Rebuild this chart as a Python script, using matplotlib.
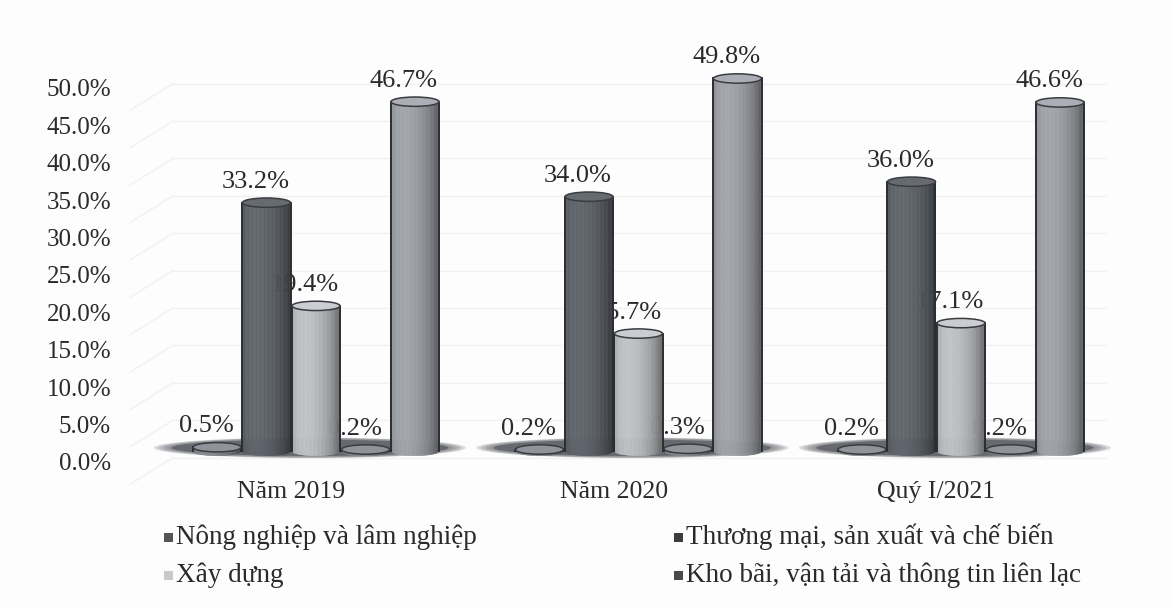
import numpy as np
import matplotlib
matplotlib.use("Agg")
import matplotlib.pyplot as plt
from matplotlib.patches import Ellipse, Rectangle
from matplotlib.collections import PolyCollection
from matplotlib.transforms import offset_copy
from matplotlib.colors import to_rgb

plt.rcParams['font.family'] = ['Liberation Serif', 'DejaVu Serif']

# ---- data ----
categories = ["Năm 2019", "Năm 2020", "Quý I/2021"]
legend_labels = ["Nông nghiệp và lâm nghiệp",
                 "Thương mại, sản xuất và chế biến",
                 "Xây dựng",
                 "Kho bãi, vận tải và thông tin liên lạc"]
nong_nghiep = [0.5, 0.2, 0.2]
thuong_mai = [33.2, 34.0, 36.0]
xay_dung = [19.4, 15.7, 17.1]
linh_vuc_khac = [0.2, 0.3, 0.2]
kho_bai = [46.7, 49.8, 46.6]
yticks = [0, 5, 10, 15, 20, 25, 30, 35, 40, 45, 50]

series = [nong_nghiep, thuong_mai, xay_dung, linh_vuc_khac, kho_bai]
bar_colors = ["#85888e", "#5e636a", "#bcbec2", "#85888e", "#9ea1a7"]
legend_colors = ["#555555", "#3d3d3d", "#c9c9c9", "#4a4a4a"]

TEXT = "#2a2a2a"
W, H, DPI = 1170, 608, 100

fig = plt.figure(figsize=(W / DPI, H / DPI), dpi=DPI)
fig.patch.set_facecolor("#fdfdfd")
ax = fig.add_axes([125 / W, (H - 462) / H, (1110 - 125) / W, (462 - 88) / H])
ax.set_facecolor("none")
ax.set_xlim(-0.5922, 2.4621)
ax.set_ylim(0, 50)
for s in ax.spines.values():
    s.set_visible(False)

# bars sit a little above the value axis (depth of the 3-D floor)
bar_tr = offset_copy(ax.transData, fig=fig, x=0, y=11, units="dots")
lab_tr = offset_copy(ax.transData, fig=fig, x=-11, y=32, units="dots")

step = 0.1535
bw = 0.149
cap_h = 1.25

# faint back-wall grid and side-wall lines
for v in yticks:
    ax.plot([-0.443, 2.45], [v + 0.6, v + 0.6], color="#f1f1f1", lw=1.0,
            zorder=0.5, clip_on=False)
    ax.plot([-0.443, -0.577], [v + 0.6, v - 3.0], color="#f1f1f1", lw=1.0,
            zorder=0.5, clip_on=False)


def shade(u):
    th = np.arcsin(np.clip(u, -1, 1))
    return 0.6 + 0.42 * max(0.0, np.cos(th + 0.45))


def cylinder(xc, val, base, z):
    rgb = np.array(to_rgb(base))
    n = 36
    xs = np.linspace(xc - bw / 2, xc + bw / 2, n + 1)

    def bottom(x):
        u = (x - xc) / (bw / 2)
        return -cap_h / 2 * np.sqrt(max(0.0, 1 - u * u))

    polys, cols = [], []
    for a, b in zip(xs[:-1], xs[1:]):
        um = ((a + b) / 2 - xc) / (bw / 2)
        c = np.clip(rgb * shade(um), 0, 1)
        polys.append([(a, bottom(a)), (b, bottom(b)), (b, val), (a, val)])
        cols.append(c)
    pc = PolyCollection(polys, facecolors=cols, edgecolors=cols,
                        linewidths=0.4, transform=bar_tr, zorder=z,
                        clip_on=False)
    ax.add_collection(pc)
    # outline of the body
    for xe in (xc - bw / 2, xc + bw / 2):
        ax.plot([xe, xe], [0, val], color="#2b2d31", lw=1.4,
                transform=bar_tr, zorder=z + 0.1, clip_on=False)
    # top cap
    top = np.clip(rgb * 1.08, 0, 1)
    cap = Ellipse((xc, val), bw, cap_h, facecolor=top, edgecolor="#3a3c40",
                  lw=1.1, transform=bar_tr, zorder=z + 0.2, clip_on=False)
    ax.add_patch(cap)


for g, cat in enumerate(categories):
    # floor shadow under each group: soft halo plus a darker core
    for k in range(4):
        f = 1.06 - k * 0.03
        ax.add_patch(Ellipse((g - 0.019, 1.9), 0.912 * f, 2.6 * f,
                             facecolor="#5a5d63", edgecolor="none",
                             alpha=0.22, zorder=1, clip_on=False))
    ax.add_patch(Ellipse((g - 0.019, 1.9), 0.86, 2.2,
                         facecolor="#5e6167", edgecolor="none",
                         alpha=0.85, zorder=1.1, clip_on=False))
    for i, vals in enumerate(series):
        xc = g + (i - 2) * step
        cylinder(xc, vals[g], bar_colors[i], 3 + i * 0.5)
        ax.text(xc, vals[g], f"{vals[g]:.1f}%", transform=lab_tr,
                ha="center", va="center", fontsize=19, color=TEXT, zorder=2)

ax.set_yticks(yticks)
ax.set_yticklabels([f"{v:.1f}%" for v in yticks])
ax.set_xticks([g - 0.077 for g in range(len(categories))])
ax.set_xticklabels(categories)
ax.tick_params(axis="y", length=0, pad=10, labelsize=18, labelcolor=TEXT)
ax.tick_params(axis="x", length=0, pad=14, labelsize=18.5, labelcolor=TEXT)

# legend in two columns
leg_pos = [(168, 537), (678, 537), (168, 575), (678, 575)]
for (px, py), lab, col in zip(leg_pos, legend_labels, legend_colors):
    fig.patches.append(Rectangle(((px - 4.5) / W, (H - py - 4.5) / H), 9 / W, 9 / H,
                                 transform=fig.transFigure, facecolor=col,
                                 edgecolor="none"))
    fig.text((px + 8) / W, (H - py) / H, lab, ha="left", va="center",
             fontsize=19.5, color=TEXT)

fig.savefig("out.png", dpi=DPI, facecolor=fig.get_facecolor())
